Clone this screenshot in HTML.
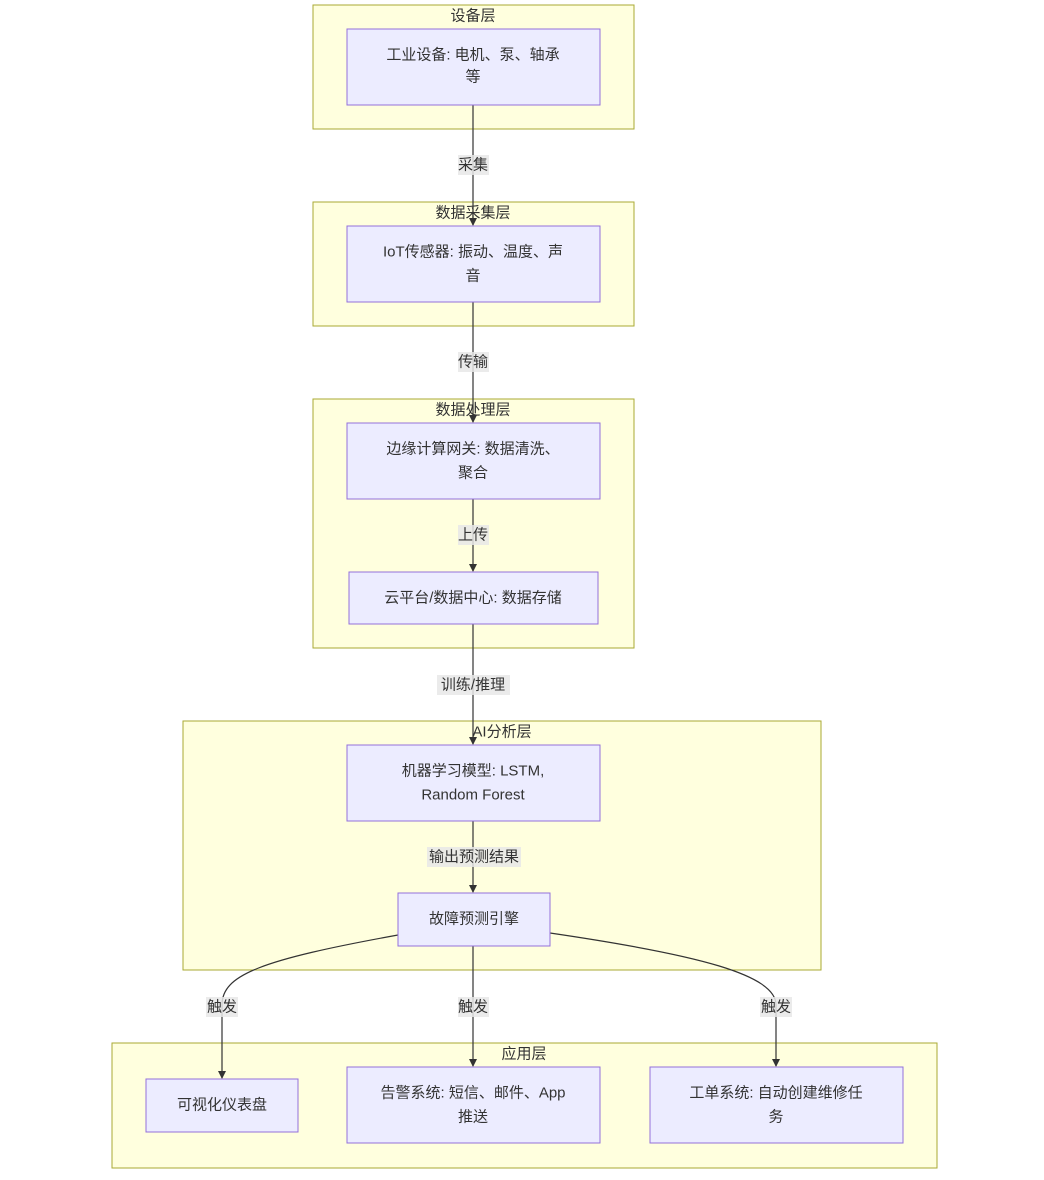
<!DOCTYPE html>
<html><head><meta charset="utf-8"><style>
body{margin:0;background:#fff;}
svg text{font-family:"Liberation Sans","Noto Sans CJK SC",sans-serif;font-size:15px;fill:#333;text-anchor:middle;dominant-baseline:central;}
.c{fill:#ffffde;stroke:#aaaa33;stroke-width:1;}
.n{fill:#ececff;stroke:#9370db;stroke-width:1;}
.e{stroke:#333;stroke-width:1.2;fill:none;}
.lb{fill:#e8e8e8;opacity:0.85;}
</style></head><body>
<svg width="1044" height="1175" viewBox="0 0 1044 1175" xmlns="http://www.w3.org/2000/svg">
<defs><marker id="a" markerWidth="8" markerHeight="8" refX="7" refY="4" orient="auto" markerUnits="userSpaceOnUse"><path d="M0,0L8,4L0,8z" fill="#333"/></marker></defs>
<rect class="c" x="313" y="5" width="321" height="124"/>
<rect class="c" x="313" y="202" width="321" height="124"/>
<rect class="c" x="313" y="399" width="321" height="249"/>
<rect class="c" x="183" y="721" width="638" height="249"/>
<rect class="c" x="112" y="1043" width="825" height="125"/>
<text x="473" y="16">设备层</text>
<text x="473" y="213">数据采集层</text>
<text x="473" y="410">数据处理层</text>
<text x="502" y="732">AI分析层</text>
<text x="524" y="1054">应用层</text>
<path class="e" d="M473,105V225" marker-end="url(#a)"/>
<path class="e" d="M473,302V422" marker-end="url(#a)"/>
<path class="e" d="M473,499V571" marker-end="url(#a)"/>
<path class="e" d="M473,624V744" marker-end="url(#a)"/>
<path class="e" d="M473,821V892" marker-end="url(#a)"/>
<path class="e" d="M473,946V1066" marker-end="url(#a)"/>
<path class="e" d="M398,935C260,960 222,975 222,1005L222,1078" marker-end="url(#a)"/>
<path class="e" d="M550,933C700,955 776,975 776,1005L776,1066" marker-end="url(#a)"/>
<rect class="n" x="347" y="29" width="253" height="76"/>
<text x="473" y="55">工业设备: 电机、泵、轴承</text><text x="473" y="77">等</text>
<rect class="n" x="347" y="226" width="253" height="76"/>
<text x="473" y="252">IoT传感器: 振动、温度、声</text><text x="473" y="276">音</text>
<rect class="n" x="347" y="423" width="253" height="76"/>
<text x="473" y="449">边缘计算网关: 数据清洗、</text><text x="473" y="473">聚合</text>
<rect class="n" x="349" y="572" width="249" height="52"/>
<text x="473" y="598">云平台/数据中心: 数据存储</text>
<rect class="n" x="347" y="745" width="253" height="76"/>
<text x="473" y="771">机器学习模型: LSTM,</text><text x="473" y="795">Random Forest</text>
<rect class="n" x="398" y="893" width="152" height="53"/>
<text x="474" y="919">故障预测引擎</text>
<rect class="n" x="146" y="1079" width="152" height="53"/>
<text x="222" y="1105">可视化仪表盘</text>
<rect class="n" x="347" y="1067" width="253" height="76"/>
<text x="473" y="1093">告警系统: 短信、邮件、App</text><text x="473" y="1117">推送</text>
<rect class="n" x="650" y="1067" width="253" height="76"/>
<text x="776" y="1093">工单系统: 自动创建维修任</text><text x="776" y="1117">务</text>
<rect class="lb" x="458" y="155" width="31" height="20"/><text x="473" y="165">采集</text>
<rect class="lb" x="458" y="352" width="31" height="20"/><text x="473" y="362">传输</text>
<rect class="lb" x="458" y="525" width="31" height="20"/><text x="473" y="535">上传</text>
<rect class="lb" x="437" y="675" width="73" height="20"/><text x="473" y="685">训练/推理</text>
<rect class="lb" x="427" y="847" width="94" height="20"/><text x="474" y="857">输出预测结果</text>
<rect class="lb" x="206" y="997" width="32" height="20"/><text x="222" y="1007">触发</text>
<rect class="lb" x="458" y="997" width="31" height="20"/><text x="473" y="1007">触发</text>
<rect class="lb" x="760" y="997" width="32" height="20"/><text x="776" y="1007">触发</text>
</svg>
</body></html>
